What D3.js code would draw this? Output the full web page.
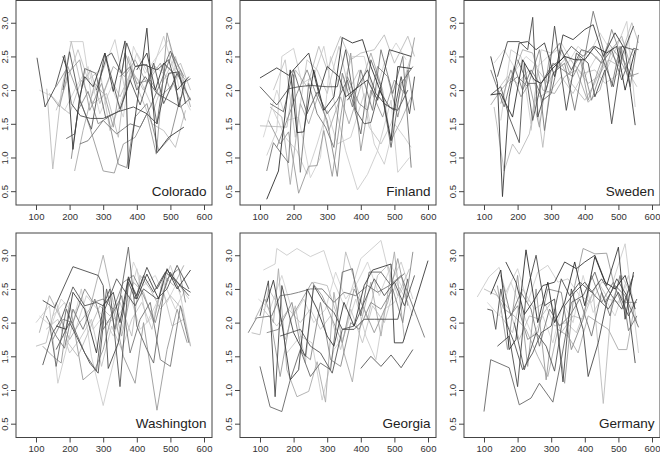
<!DOCTYPE html>
<html>
<head>
<meta charset="utf-8">
<script src="https://cdn.jsdelivr.net/npm/d3@7"></script>
<style>
html,body{margin:0;padding:0;background:#fff;}
svg{display:block;}
</style>
</head>
<body>
<svg id="chart" width="660" height="453"></svg>
<script>
// ---------- data ----------
const countries = ["Colorado", "Finland", "Sweden", "Washington", "Georgia", "Germany"];
const xTicks = [100, 200, 300, 400, 500, 600];
const yTicks = [0.5, 1.0, 1.5, 2.0, 2.5, 3.0];
const xDomain = [40.5, 623.8];
const yDomain = [0.295, 3.33];

const colorado = [
  [[103,2.48],[127,1.75],[158,2.05],[185,2.52],[205,1.8],[232,1.62],[262,1.58],[300,1.58],[345,1.68],[390,1.75],[430,1.65],[460,1.5],[495,2.25],[525,2.27],[545,1.8]],
  [[132,2.02],[150,0.83],[176,2.0],[205,2.72],[235,2.05],[262,2.3],[290,1.8],[320,2.2],[350,1.9],[385,2.3],[420,2.0],[455,2.35],[490,2.2],[530,2.4],[560,2.0]],
  [[180,2.5],[193,2.3],[210,1.12],[230,1.9],[245,2.2],[270,2.05],[305,2.55],[330,1.98],[365,2.73],[375,0.83],[400,1.78],[430,2.92],[460,1.07],[495,1.3],[540,1.45]],
  [[190,1.28],[215,1.35],[245,2.32],[278,2.25],[308,1.58],[350,1.7],[395,2.35],[430,2.38],[460,1.5],[485,2.4],[500,2.58],[535,2.1],[560,2.17]],
  [[160,2.05],[195,2.35],[225,1.95],[260,1.45],[300,0.8],[333,0.77],[360,1.2],[395,1.3],[430,1.65],[458,1.05],[490,2.85],[520,2.3],[545,2.15]],
  [[180,2.0],[200,2.57],[230,1.85],[265,1.42],[285,2.0],[305,2.55],[350,1.72],[380,2.15],[410,1.78],[450,2.4],[480,1.8],[520,2.25],[560,1.85]],
  [[200,2.72],[240,2.72],[265,1.9],[300,2.3],[335,2.75],[365,2.0],[400,2.55],[440,2.2],[480,2.8],[510,2.3],[545,2.1]],
  [[205,0.98],[225,1.7],[255,1.98],[285,1.5],[315,1.6],[345,0.9],[370,0.85],[395,1.6],[430,1.8],[465,1.1],[500,1.3],[530,1.9]],
  [[215,0.8],[240,1.4],[275,2.1],[300,1.95],[330,2.35],[365,2.2],[395,2.45],[430,2.1],[470,2.4],[500,2.0],[530,2.3],[560,1.75]],
  [[230,1.2],[255,1.25],[300,1.55],[340,1.35],[380,1.5],[410,1.45],[440,1.75],[470,2.1],[505,2.55],[540,2.2]],
  [[280,2.0],[310,2.5],[325,2.55],[355,2.25],[370,2.7],[395,2.35],[420,2.38],[460,2.3],[495,2.45],[520,2.0],[555,2.2]],
  [[175,1.75],[200,1.65],[235,2.15],[270,1.8],[310,1.95],[345,1.3],[375,2.5],[405,2.0],[445,1.5],[480,1.4],[515,1.15],[545,1.7]],
  [[350,2.2],[380,2.35],[400,2.0],[425,2.2],[460,1.95],[495,1.85],[530,1.75],[560,1.88]],
  [[140,1.95],[170,1.75],[195,2.25],[230,2.45],[260,1.7],[295,2.1],[330,1.45],[365,2.55],[400,2.1],[440,2.15],[470,1.9],[510,2.1],[545,1.55]],
  [[400,2.3],[430,2.55],[455,2.0],[480,2.4],[510,2.25],[525,1.75],[545,2.15]],
  [[110,2.0],[150,1.9],[185,1.7],[220,2.05],[255,2.35],[290,1.65],[325,2.05],[360,1.6],[390,2.65],[425,2.25],[460,2.5],[495,2.75],[525,2.05],[560,1.7]],
  [[160,1.7],[190,2.1],[225,2.6],[255,2.15],[290,2.3],[320,1.4],[355,1.85],[385,2.25],[415,2.1],[450,1.7],[480,2.15],[515,2.5],[545,1.95]]
];
const finland = [
  [[100,2.18],[150,2.33],[185,2.22],[245,2.55],[275,1.95],[300,2.35],[335,2.2],[355,1.9],[380,2.0],[420,2.15],[450,1.85],[485,2.6],[550,2.5]],
  [[100,2.05],[150,1.78],[185,2.02],[215,2.05],[250,2.07],[300,2.05],[330,2.05],[355,2.6],[385,1.7],[410,1.5],[430,1.52],[455,2.0],[485,1.75],[510,1.7],[540,2.0]],
  [[120,0.38],[155,0.8],[190,2.3],[210,1.37],[230,1.38],[260,2.3],[290,1.7],[320,1.9],[345,2.78],[375,2.7],[405,2.75],[430,2.35],[465,1.9],[490,1.25],[510,2.35],[550,2.32]],
  [[100,1.47],[145,1.46],[180,1.45],[205,2.3],[240,2.05],[275,2.65],[300,2.3],[340,2.8],[370,2.45],[400,2.55],[440,2.6],[470,2.82],[500,2.4],[540,2.8],[560,2.5]],
  [[120,1.03],[150,1.4],[165,2.5],[200,2.62],[225,2.1],[260,2.2],[290,2.65],[320,1.85],[355,1.1],[390,0.52],[420,0.75],[450,1.1],[490,1.85],[510,0.78],[545,1.0]],
  [[120,0.8],[140,1.22],[165,1.05],[185,0.92],[200,2.23],[220,0.78],[245,2.1],[270,1.65],[295,1.45],[320,1.15],[345,2.25],[375,1.75],[400,2.3],[435,1.7],[460,2.6],[495,1.95],[525,2.5],[550,0.85]],
  [[125,1.55],[160,1.2],[185,1.38],[215,0.47],[245,0.87],[270,0.88],[290,1.4],[315,0.72],[340,1.6],[370,2.55],[400,1.1],[430,2.0],[465,1.6],[500,2.15],[530,1.95],[560,2.78]],
  [[130,1.75],[165,1.6],[190,0.6],[220,1.8],[245,1.5],[275,1.95],[305,1.4],[340,1.9],[365,1.5],[395,1.98],[430,2.55],[465,2.0],[490,1.25],[520,1.55],[550,1.9]],
  [[130,1.8],[170,1.68],[200,2.3],[240,1.65],[270,1.97],[300,1.65],[330,1.85],[360,2.15],[400,1.35],[430,2.45],[460,2.05],[490,1.15],[520,2.1],[555,2.35]],
  [[150,1.15],[180,1.55],[210,1.95],[240,2.3],[270,1.9],[300,1.55],[330,0.72],[360,2.2],[395,1.8],[420,1.7],[450,2.35],[480,2.2],[510,1.6],[540,2.3],[560,1.7]],
  [[140,1.7],[175,1.3],[210,1.1],[240,0.75],[270,1.2],[300,1.7],[330,1.2],[370,1.3],[410,1.95],[440,1.2],[470,0.9],[500,1.5],[530,1.3],[550,1.15]],
  [[360,1.85],[390,2.05],[420,2.3],[445,1.95],[470,1.8],[500,1.7],[520,2.2],[545,1.65],[560,2.2]],
  [[110,1.3],[150,2.0],[180,1.55],[215,1.6],[250,0.7],[280,1.0],[310,2.5],[340,2.0],[375,2.5],[410,2.5],[440,1.9],[470,2.4],[505,2.7],[535,2.45]],
  [[140,2.0],[175,2.45],[205,1.3],[240,2.45],[270,2.3],[300,1.95],[335,2.65],[365,2.0],[395,2.3],[425,1.45],[460,1.2],[490,1.5],[520,2.0],[555,2.6]]
];
const sweden = [
  [[120,2.5],[140,2.1],[155,0.42],[175,1.9],[205,2.7],[230,2.72],[255,2.6],[280,2.7],[310,2.2],[335,2.82],[365,2.75],[400,2.9],[425,2.97],[455,2.5],[490,2.85],[520,2.6],[550,1.48]],
  [[120,1.93],[150,2.05],[175,1.6],[205,1.22],[220,2.4],[245,1.55],[270,2.1],[300,2.35],[330,2.45],[360,2.65],[395,2.5],[425,2.65],[450,2.5],[485,2.05],[510,2.65],[545,2.6]],
  [[130,1.75],[160,0.8],[185,1.2],[205,1.05],[235,1.35],[255,1.9],[275,1.15],[300,2.2],[330,2.4],[360,2.1],[400,1.85],[430,2.1],[470,2.6],[500,2.4],[540,3.0],[560,2.7]],
  [[140,2.2],[170,2.72],[205,2.72],[230,2.6],[245,3.08],[260,1.6],[290,2.1],[310,2.95],[345,1.7],[375,2.55],[410,2.4],[430,1.9],[460,2.3],[480,1.5],[510,2.5],[545,2.95]],
  [[150,1.8],[180,2.3],[210,1.9],[235,2.1],[265,1.45],[295,2.5],[325,2.7],[355,2.25],[385,2.5],[410,1.85],[440,2.3],[470,2.7],[500,2.5],[530,2.2],[560,2.25]],
  [[120,2.3],[160,1.75],[190,2.35],[215,2.0],[240,2.3],[265,2.1],[280,1.4],[305,2.25],[340,2.4],[370,1.7],[400,2.5],[425,3.17],[455,2.6],[480,2.05],[505,2.65],[535,2.05],[560,2.82]],
  [[150,1.55],[180,2.6],[210,2.5],[240,1.5],[270,2.6],[300,2.55],[330,2.7],[365,2.4],[400,2.2],[435,2.5],[465,2.3],[500,2.7],[525,3.02],[550,1.75]],
  [[120,1.93],[150,1.95],[185,1.6],[215,2.45],[250,2.15],[270,2.1],[300,2.3],[340,2.5],[370,2.45],[400,2.45],[430,2.65],[465,2.55],[495,2.65],[520,2.0],[550,2.6]],
  [[175,2.1],[200,2.2],[230,2.05],[265,2.6],[285,2.0],[305,2.4],[335,2.3],[365,2.2],[390,2.45],[420,1.85],[450,2.3],[480,2.9],[505,2.55],[540,2.2]],
  [[120,1.78],[150,2.0],[185,2.2],[215,2.6],[245,2.55],[275,2.0],[310,1.95],[340,2.2],[375,2.3],[410,1.82],[445,2.0],[480,2.6],[510,2.8],[545,2.2]],
  [[200,2.45],[230,2.1],[255,2.1],[275,1.85],[300,1.95],[330,2.6],[360,2.3],[390,2.6],[420,2.55],[450,2.4],[480,2.6],[510,2.15],[545,2.62],[560,2.6]],
  [[240,1.4],[260,2.3],[290,2.1],[320,2.35],[350,2.5],[380,2.3],[410,2.1],[440,2.2],[470,2.45],[505,2.35],[535,2.8]],
  [[130,2.4],[160,2.6],[195,2.3],[225,2.5],[260,2.35],[290,2.5],[320,2.6],[350,2.4],[380,2.65],[410,2.5],[445,2.85],[475,2.6],[510,2.75],[545,2.5]],
  [[140,2.0],[170,2.2],[200,2.1],[235,2.3],[265,1.9],[300,2.0],[330,2.2],[365,1.95],[395,2.25],[430,2.3],[460,2.1],[490,2.2],[520,2.35],[555,2.05]]
];
const washington = [
  [[120,2.33],[155,2.22],[210,2.83],[285,2.7],[300,2.55],[315,1.32],[345,1.7],[375,2.65],[400,2.4],[430,2.82],[460,2.5],[490,2.78],[530,2.55],[560,2.45]],
  [[120,1.37],[150,1.85],[175,2.05],[210,2.53],[245,2.25],[280,2.3],[300,2.25],[320,2.5],[350,1.05],[375,2.6],[395,2.35],[420,2.7],[450,2.45],[485,2.75],[520,2.6],[555,2.4]],
  [[120,1.65],[150,1.5],[175,1.4],[200,2.3],[240,1.15],[275,1.3],[300,1.6],[330,2.2],[360,1.5],[395,1.1],[420,2.0],[460,0.7],[490,1.6],[520,2.2],[550,1.7]],
  [[100,2.0],[140,2.25],[165,1.1],[200,1.8],[235,2.5],[265,1.5],[300,0.77],[330,1.4],[360,2.0],[400,2.8],[430,2.0],[460,2.3],[500,2.85],[530,2.4],[560,1.65]],
  [[160,1.95],[190,1.9],[210,2.45],[245,2.2],[280,1.55],[300,2.25],[330,2.45],[350,2.0],[375,2.68],[400,2.35],[430,2.72],[465,2.35],[490,2.8],[520,2.5],[560,2.78]],
  [[140,2.0],[160,1.35],[190,2.2],[215,1.9],[245,1.55],[280,1.28],[310,2.5],[335,1.9],[375,3.12],[400,1.95],[430,1.6],[450,1.4],[480,2.45],[500,2.75],[530,2.45]],
  [[110,1.85],[140,2.4],[170,2.1],[200,1.75],[230,2.0],[260,2.2],[300,3.0],[330,2.3],[355,1.8],[390,2.6],[420,2.45],[450,2.0],[480,2.7],[510,2.55],[540,2.85]],
  [[130,2.1],[160,1.8],[185,1.62],[210,2.2],[240,1.9],[275,2.35],[300,1.9],[325,2.1],[355,2.4],[380,1.55],[410,2.05],[440,2.3],[470,1.45],[500,1.35],[530,2.25],[555,1.7]],
  [[100,1.65],[130,1.7],[160,2.3],[195,1.7],[225,1.5],[255,1.85],[290,2.25],[320,2.1],[350,2.3],[385,1.8],[410,2.7],[440,2.5],[470,2.2],[500,2.4],[535,2.2],[560,1.65]],
  [[150,1.75],[180,2.05],[210,2.0],[245,2.5],[270,2.3],[300,2.35],[330,2.2],[360,2.6],[390,2.7],[420,2.4],[455,2.0],[490,2.65],[525,2.8],[545,2.3]],
  [[160,1.6],[200,2.0],[240,1.6],[260,1.4],[285,1.25],[305,2.2],[340,2.65],[360,2.5],[395,2.25],[420,2.5],[460,2.35],[490,2.5],[520,2.85],[555,2.5]],
  [[150,2.1],[185,2.3],[215,1.85],[250,2.4],[290,2.15],[315,2.0],[345,2.1],[380,2.4],[410,1.9],[450,2.1],[480,2.6],[515,2.2],[545,2.5]],
  [[110,2.1],[145,1.95],[175,2.35],[210,2.15],[240,2.3],[270,1.9],[300,2.1],[330,1.8],[360,2.2],[390,2.9],[420,2.55],[455,2.7],[490,2.3],[520,2.6],[555,2.35]],
  [[130,1.9],[165,2.05],[200,1.55],[230,1.75],[265,2.05],[295,1.35],[325,1.95],[355,1.6],[385,2.05],[415,2.3],[445,1.9],[475,2.55],[505,1.95],[540,2.05]]
];
const georgia = [
  [[110,2.78],[145,2.87],[150,3.1],[180,3.0],[210,3.1],[250,2.98],[290,3.07],[320,2.6],[355,2.2],[400,2.95],[460,3.22],[490,2.6],[520,2.9],[555,2.35]],
  [[100,1.35],[130,0.75],[165,0.68],[190,1.15],[220,1.6],[250,1.2],[280,1.4],[310,1.3],[345,2.75],[375,2.8],[400,2.1],[425,2.75],[460,2.75],[490,2.55],[530,2.73]],
  [[400,1.32],[430,1.5],[460,1.35],[490,1.52],[520,1.33],[555,1.6]],
  [[65,1.85],[90,2.07],[135,2.1],[160,2.4],[190,2.42],[215,2.45],[250,2.5],[285,2.5],[320,2.3],[350,2.45],[385,2.4],[420,2.55],[450,2.45],[485,2.55],[520,2.7],[590,1.78]],
  [[120,2.3],[140,2.63],[165,2.0],[190,1.15],[215,1.3],[240,2.5],[270,2.2],[300,1.8],[320,1.65],[350,2.3],[380,1.95],[410,2.55],[435,2.78],[490,2.87],[500,1.7],[525,1.7],[600,2.92]],
  [[100,2.1],[125,2.62],[145,0.9],[165,2.55],[200,1.85],[235,1.5],[260,2.55],[290,2.3],[320,2.15],[345,1.9],[380,1.9],[410,2.05],[440,2.05],[475,2.05],[510,2.05],[540,2.65]],
  [[85,2.05],[115,2.35],[140,2.0],[155,2.8],[180,1.3],[210,0.9],[245,0.98],[270,1.42],[295,0.82],[320,2.45],[350,1.55],[375,1.12],[400,2.0],[430,2.6],[460,1.8],[500,3.05],[530,1.75]],
  [[120,1.85],[155,1.9],[195,2.3],[225,1.55],[250,1.45],[280,2.3],[310,1.45],[340,1.35],[370,2.0],[395,1.9],[430,2.3],[460,2.2],[495,2.5],[525,2.0],[555,3.05]],
  [[75,1.85],[100,1.82],[125,2.5],[150,2.3],[175,1.75],[205,2.25],[235,1.4],[260,2.6],[300,2.55],[330,2.1],[355,3.05],[390,2.5],[420,2.05],[450,2.7],[480,2.85],[510,2.4],[545,2.8]],
  [[160,1.8],[190,1.85],[220,1.9],[250,1.65],[280,1.55],[315,1.25],[345,1.9],[380,1.95],[410,2.3],[440,2.65],[470,2.4],[500,2.6],[530,2.25],[560,2.7]],
  [[130,2.1],[160,1.2],[190,2.05],[220,2.3],[255,2.6],[285,2.4],[315,2.05],[345,1.7],[380,2.5],[410,2.2],[440,1.85],[480,2.3],[510,2.95],[540,2.25]],
  [[180,1.55],[220,1.8],[255,1.7],[285,0.85],[320,1.6],[350,1.8],[385,2.35],[415,1.8],[445,1.45],[470,2.2],[500,2.3],[530,2.55]],
  [[95,2.35],[130,2.2],[165,2.7],[200,2.1],[230,2.35],[260,2.0],[295,2.2],[325,2.75],[355,2.35],[390,2.6],[420,2.9],[455,2.4],[490,2.85],[525,2.5],[555,2.1]],
  [[110,2.2],[150,1.95],[185,2.2],[220,2.0],[250,2.2],[280,1.9],[310,2.1],[340,1.6],[370,2.2],[405,1.7],[435,2.25],[470,2.0],[505,2.6],[540,2.3]]
];
const germany = [
  [[80,2.38],[115,2.68],[145,2.82],[165,2.45],[200,2.8],[230,2.3],[260,2.75],[290,2.85],[320,2.6],[350,2.65],[385,2.4],[420,2.3],[450,2.6],[480,2.55],[520,3.17],[560,1.55]],
  [[100,0.68],[120,1.45],[175,1.33],[205,0.78],[240,0.88],[265,1.1],[305,0.82],[330,1.45],[360,2.3],[395,2.4],[430,2.75],[460,2.3],[490,2.55],[520,2.4],[560,1.93]],
  [[110,2.2],[125,2.18],[135,1.9],[150,2.5],[170,1.95],[190,1.7],[215,1.3],[245,1.55],[270,1.85],[300,1.95],[330,2.65],[355,2.4],[385,2.6],[420,2.45],[450,2.65],[480,2.4],[510,2.2],[545,2.7]],
  [[120,2.42],[150,2.78],[175,1.6],[195,1.75],[225,3.08],[260,2.0],[290,2.6],[310,2.0],[340,2.3],[370,2.9],[400,2.25],[430,2.98],[460,2.6],[490,2.5],[520,2.7],[550,2.2]],
  [[140,1.65],[175,1.8],[200,1.05],[225,2.4],[255,3.0],[280,2.25],[310,2.35],[335,1.12],[360,2.5],[395,1.9],[410,1.2],[440,1.7],[465,2.3],[495,2.65],[525,2.4],[550,1.4]],
  [[165,2.9],[195,2.6],[220,2.12],[245,2.3],[275,2.55],[310,2.6],[340,2.9],[375,2.8],[400,2.9],[430,3.0],[465,2.55],[500,3.12],[520,2.05],[545,2.75]],
  [[140,2.55],[170,1.6],[200,2.7],[230,1.35],[255,2.5],[285,1.15],[310,2.2],[340,1.1],[370,2.55],[395,3.1],[430,3.02],[465,3.03],[490,2.5],[520,2.3],[555,2.3]],
  [[130,2.5],[160,2.2],[190,2.1],[225,1.9],[260,1.5],[290,1.2],[320,1.9],[350,1.8],[380,1.55],[410,2.1],[440,2.0],[470,1.9],[500,1.6],[525,1.6],[550,2.3]],
  [[150,2.7],[180,2.1],[210,2.45],[240,2.2],[265,1.65],[295,2.2],[325,1.95],[355,2.1],[385,2.35],[420,1.8],[450,2.45],[475,2.1],[505,2.7],[530,1.88],[555,2.1]],
  [[100,2.5],[140,2.4],[175,2.2],[205,1.75],[235,2.1],[265,2.05],[300,2.3],[330,1.85],[365,2.1],[395,2.05],[425,2.45],[455,0.8],[480,2.3],[510,2.7],[540,2.4]],
  [[190,2.0],[220,1.3],[255,1.85],[285,1.65],[310,1.28],[340,2.25],[370,2.45],[400,2.6],[430,2.4],[470,2.2],[500,2.45],[530,2.1],[555,2.35]],
  [[170,2.05],[200,2.25],[230,1.75],[260,1.85],[290,2.5],[330,2.45],[360,1.6],[395,2.05],[420,2.7],[450,2.3],[485,2.6],[515,2.2],[540,2.65]],
  [[110,2.3],[145,2.1],[180,2.6],[215,2.15],[245,1.8],[275,2.1],[305,1.7],[335,2.3],[365,2.0],[395,2.7],[425,2.15],[455,2.4],[490,2.1],[520,2.55],[550,2.05]],
  [[150,2.1],[185,1.85],[215,2.5],[250,2.2],[280,2.3],[310,1.95],[345,2.0],[375,1.85],[405,2.25],[440,2.6],[470,2.35],[500,2.3],[530,2.7],[555,2.0]]
];
const panelData = [colorado, finland, sweden, washington, georgia, germany];

// grey level of each line (by index within a panel)
const coloradoShades   = ["#4a4a4a","#bbb","#3a3a3a","#666","#999","#555","#ccc","#888","#aaa","#777","#4a4a4a","#bbb","#666","#999","#3a3a3a","#d2d2d2","#c4c4c4"];
const finlandShades    = ["#3a3a3a","#555","#2e2e2e","#bbb","#ccc","#777","#999","#aaa","#666","#888","#ccc","#4a4a4a","#d2d2d2","#c4c4c4"];
const swedenShades     = ["#3a3a3a","#555","#bbb","#4a4a4a","#999","#777","#ccc","#2e2e2e","#888","#aaa","#666","#bbb","#d2d2d2","#c4c4c4"];
const washingtonShades = ["#4a4a4a","#555","#999","#ccc","#3a3a3a","#666","#aaa","#777","#bbb","#888","#555","#ccc","#d2d2d2","#c4c4c4"];
const georgiaShades    = ["#ccc","#666","#555","#777","#3a3a3a","#4a4a4a","#aaa","#888","#bbb","#555","#999","#ccc","#d2d2d2","#c4c4c4"];
const germanyShades    = ["#ccc","#666","#555","#2e2e2e","#4a4a4a","#3a3a3a","#999","#aaa","#777","#bbb","#555","#888","#d2d2d2","#c4c4c4"];
const panelShades = [coloradoShades, finlandShades, swedenShades, washingtonShades, georgiaShades, germanyShades];

// ---------- layout ----------
const svg = d3.select("#chart");
const colLeft = [16, 240, 464];
const rowTop = [0.5, 233];
const pw = 196, ph = 204.5;
const font = "'Liberation Sans', Arial, Helvetica, sans-serif";

countries.forEach((name, i) => {
  const left = colLeft[i % 3], top = rowTop[Math.floor(i / 3)];
  const x = d3.scaleLinear().domain(xDomain).range([left, left + pw]);
  const y = d3.scaleLinear().domain(yDomain).range([top + ph, top]);
  const g = svg.append("g");

  // lines
  const line = d3.line().x(d => x(d[0])).y(d => y(d[1]));
  const shades = panelShades[i];
  const order = d3.range(panelData[i].length).sort((a, b) => d3.color(shades[b]).r - d3.color(shades[a]).r);
  order.forEach(k => {
    g.append("path")
      .attr("d", line(panelData[i][k]))
      .attr("fill", "none")
      .attr("stroke", shades[k])
      .attr("stroke-width", 0.9);
  });

  // frame
  g.append("rect")
    .attr("x", left).attr("y", top)
    .attr("width", pw).attr("height", ph)
    .attr("fill", "none").attr("stroke", "#444").attr("stroke-width", 1);

  // x axis
  const xa = g.append("g").attr("transform", `translate(0,${top + ph})`)
    .call(d3.axisBottom(x).tickValues(xTicks).tickSize(5).tickPadding(3).tickFormat(d3.format("d")));
  xa.select(".domain").remove();
  xa.selectAll("line").attr("stroke", "#444");
  xa.selectAll("text").attr("fill", "#333").style("font-family", font).style("font-size", "9.5px");

  // y axis
  const ya = g.append("g").attr("transform", `translate(${left},0)`)
    .call(d3.axisLeft(y).tickValues(yTicks).tickSize(5).tickFormat(d3.format(".1f")));
  ya.select(".domain").remove();
  ya.selectAll("line").attr("stroke", "#444");
  ya.selectAll("text")
    .attr("fill", "#333")
    .attr("transform", "rotate(-90)")
    .attr("x", 0).attr("y", -8.5).attr("dy", null)
    .attr("text-anchor", "middle")
    .style("font-family", font).style("font-size", "9.5px");

  // panel label
  g.append("text")
    .attr("x", left + pw - 5.5).attr("y", top + ph - 9.5)
    .attr("text-anchor", "end")
    .attr("fill", "#222")
    .style("font-family", font).style("font-size", "13.5px")
    .text(name);
});
</script>
</body>
</html>
